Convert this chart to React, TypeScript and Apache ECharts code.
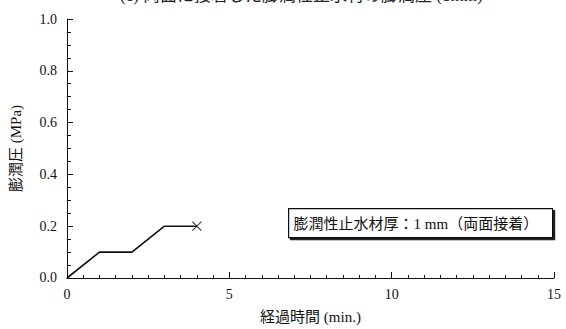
import React, { useEffect, useRef } from "react";
import * as echarts from "echarts";

// Elapsed time (min.) and swelling pressure (MPa)
const timeMin = [0, 1, 2, 3, 4];
const pressureMPa = [0, 0.1, 0.1, 0.2, 0.2];
const xTicks = [0, 5, 10, 15];
const yTicks = [0, 0.2, 0.4, 0.6, 0.8, 1.0];

const titleText = "(c) 両面に接着した膨潤性止水材の膨潤圧 (1mm)";
const noteText = "膨潤性止水材厚：1 mm（両面接着）";
const xName = "経過時間 (min.)";
const yName = "膨潤圧 (MPa)";

const FONT = "'Liberation Serif', 'Noto Sans CJK JP', serif";

export default function App() {
  const ref = useRef<HTMLDivElement>(null);

  useEffect(() => {
    if (!ref.current) return;
    const chart = echarts.init(ref.current, undefined, { renderer: "svg" });
    const lineData = timeMin.map((t, i) => [t, pressureMPa[i]]);
    const last = lineData[lineData.length - 1];

    chart.setOption({
      animation: false,
      backgroundColor: "#fff",
      textStyle: { fontFamily: FONT, color: "#111" },
      grid: { left: 66, right: 12, top: 19, bottom: 50 },
      xAxis: {
        type: "value",
        min: xTicks[0],
        max: xTicks[xTicks.length - 1],
        interval: 5,
        name: xName,
        nameLocation: "middle",
        nameGap: 31,
        nameTextStyle: { fontFamily: FONT, fontSize: 15, color: "#111" },
        axisLine: { show: true, lineStyle: { color: "#111", width: 1 } },
        axisTick: { show: true, inside: true, length: 6, lineStyle: { color: "#111" } },
        minorTick: { show: true, splitNumber: 10, length: 3, lineStyle: { color: "#111" } },
        axisLabel: { fontFamily: FONT, fontSize: 14, color: "#111", margin: 10 },
        splitLine: { show: false },
        minorSplitLine: { show: false },
      },
      yAxis: {
        type: "value",
        min: yTicks[0],
        max: yTicks[yTicks.length - 1],
        interval: 0.2,
        name: yName,
        nameLocation: "middle",
        nameGap: 44,
        nameTextStyle: { fontFamily: FONT, fontSize: 15, color: "#111" },
        axisLine: { show: true, lineStyle: { color: "#111", width: 1 } },
        axisTick: { show: true, inside: true, length: 6, lineStyle: { color: "#111" } },
        minorTick: { show: true, splitNumber: 4, length: 4, lineStyle: { color: "#111" } },
        axisLabel: {
          fontFamily: FONT,
          fontSize: 14,
          color: "#111",
          margin: 10,
          formatter: (v: number) => v.toFixed(1),
        },
        splitLine: { show: false },
        minorSplitLine: { show: false },
      },
      series: [
        {
          type: "line",
          data: lineData,
          symbol: "none",
          lineStyle: { color: "#111", width: 1.6 },
        },
        {
          type: "scatter",
          data: [last],
          symbol: "path://M0,0L10,10M10,0L0,10",
          symbolSize: 9,
          itemStyle: { color: "none", borderColor: "#111", borderWidth: 1.2 },
        },
      ],
      graphic: [
        {
          type: "text",
          left: 120,
          top: -13,
          style: { text: titleText, font: `17px ${FONT}`, fill: "#222" },
        },
        {
          type: "group",
          left: 288,
          top: 208,
          children: [
            {
              type: "rect",
              shape: { x: 0, y: 0, width: 264, height: 29 },
              style: {
                fill: "#fff",
                stroke: "#111",
                lineWidth: 1.2,
                shadowColor: "#222",
                shadowOffsetX: 2,
                shadowOffsetY: 2,
                shadowBlur: 0,
              },
            },
            {
              type: "text",
              x: 5,
              y: 15,
              style: {
                text: noteText,
                font: `15px ${FONT}`,
                fill: "#111",
                verticalAlign: "middle",
              },
            },
          ],
        },
      ],
    });

    return () => chart.dispose();
  }, []);

  return (
    <div
      ref={ref}
      style={{ position: "absolute", left: 0, top: 0, width: 566, height: 329 }}
    />
  );
}
